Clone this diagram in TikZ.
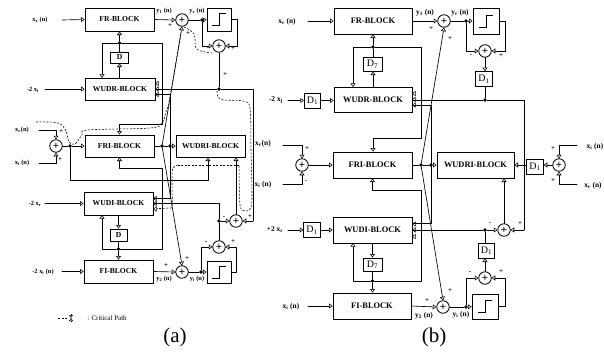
\documentclass[tikz,border=0pt]{standalone}
\usepackage{fontspec}
\setmainfont{Liberation Serif}
\usetikzlibrary{arrows.meta,calc}
\newcommand{\blkfont}{\fontsize{7.6}{9}\selectfont\bfseries}
\tikzset{
  x=1pt,y=-1pt,
  ln/.style={line width=.65pt,line cap=round,line join=round},
  hv/.style={line width=.95pt,line join=round},
  arr/.style={ln,-{Triangle[open,length=3.6pt,width=5pt,line width=.55pt]}},
  blk/.style 2 args={draw,line width=.8pt,minimum width=#1pt,minimum height=#2pt,inner sep=0pt,font=\blkfont},
  addr/.style={draw,circle,line width=.8pt,minimum size=12.5pt,inner sep=0pt,font=\fontsize{11}{11}\selectfont\bfseries},
  dotn/.style={circle,fill=black,minimum size=3.6pt,inner sep=0pt},
  lab/.style={inner sep=0pt,font=\fontsize{6.4}{7}\selectfont\bfseries},
  labb/.style={inner sep=0pt,font=\fontsize{7.4}{8}\selectfont\bfseries},
  sgn/.style={inner sep=0pt,font=\fontsize{7}{7}\selectfont\bfseries},
  captxt/.style={inner sep=0pt,font=\fontsize{21}{22}\selectfont},
  crit/.style={line width=.55pt,dash pattern=on 2pt off 1.5pt},
  tri/.style={line width=.5pt},
  stp/.style={line width=.9pt}
}
\newcommand{\ports}[2]{\foreach \i in {#2}{\draw[tri] ([yshift=\i pt]#1.east) -- ++(3,-2.2) -- ++(0,4.4) -- cycle;}}
\newcommand{\stepin}[1]{\draw[stp] ($(#1)+(-7,6)$) -- ($(#1)+(0,6)$) -- ($(#1)+(0,-6)$) -- ($(#1)+(7,-6)$);}
\begin{document}
\begin{tikzpicture}
\useasboundingbox (0,0) rectangle (604,351);
% ===== panel (a) blocks
\node[blk={69}{23}] (frA) at (119.5,19.5) {FR-BLOCK};
\node[blk={18}{11}] (dA) at (119.5,57.5) {D};
\node[blk={70}{22}] (wudrA) at (120,89) {WUDR-BLOCK};
\node[blk={69}{22}] (friA) at (119.5,146) {FRI-BLOCK};
\node[blk={69}{22}] (wudriA) at (210.5,146) {WUDRI-BLOCK};
\node[blk={69}{23}] (wudiA) at (118.5,203.5) {WUDI-BLOCK};
\node[blk={17}{12}] (dB) at (118.5,235) {D};
\node[blk={69}{23}] (fiA) at (118.5,271.5) {FI-BLOCK};
\node[blk={24}{23},line width=.9pt] (fA1) at (219,19.5) {};
\node[blk={24}{22},line width=.9pt] (fA2) at (219,272) {};
\stepin{fA1} \stepin{fA2}
\node[addr] (a1) at (182,20) {+};
\node[addr] (a2) at (219,46) {+};
\node[addr] (a0) at (56,146) {+};
\node[addr] (a3) at (236,221) {+};
\node[addr] (a4) at (219,247) {+};
\node[addr] (a5) at (182,272) {+};
\node[dotn] (d1) at (119.5,43) {};
\node[dotn] (d2) at (202,20) {};
\node[dotn] (d3) at (219,89) {};
\node[dotn] (d4) at (70,146) {};
\node[dotn] (d5) at (162,146) {};
\node[dotn] (d6) at (170,146) {};
\node[dotn] (d7) at (219,221) {};
\node[dotn] (d8) at (118.5,249) {};
\node[dotn] (d9) at (201,272) {};
\ports{wudrA}{-5.5,0,5.5}
\ports{wudiA}{-5.5,0,5}
% labels (a)
\node[lab] (t1) at (40,20) {x\textsubscript{r} (n)};
\node[lab] (t2) at (33,90) {-2 x\textsubscript{i}};
\node[lab] (t3) at (22,130) {x\textsubscript{r}(n)};
\node[lab] (t4) at (22,163) {x\textsubscript{i} (n)};
\node[lab] (t5) at (35,204) {-2 x\textsubscript{r}};
\node[lab] (t6) at (43,272) {-2 x\textsubscript{i} (n)};
\node[lab] (t7) at (164,11) {y\textsubscript{1} (n)};
\node[lab] (t8) at (197,11) {y\textsubscript{r} (n)};
\node[lab] (t9) at (164,279) {y\textsubscript{2} (n)};
\node[lab] (t10) at (197,279) {y\textsubscript{i} (n)};
\node[labb] (t11) at (263,144) {x\textsubscript{r}(n)};
\node[labb] (t12) at (263,185) {x\textsubscript{i} (n)};
\node[lab,font=\fontsize{7}{7}\selectfont] (t13) at (107,318) {: Critical Path};
\node[captxt] (capA) at (175,337) {(a)};
\coordinate (lg1) at (58,318); \coordinate (lg2) at (67,318);
\coordinate (lg3) at (71,314); \coordinate (lg4) at (71,322); \coordinate (lg5) at (71,318);
\draw[crit] (lg1) -- (lg2);
\draw[tri,-{Triangle[open,length=3pt,width=4pt]}] (lg3) -- (lg5);
\draw[tri,-{Triangle[open,length=3pt,width=4pt]}] (lg4) -- (lg5);
% signs (a)
\node[sgn] (s1) at (170,26) {+}; \node[sgn] (s2) at (188,34) {+};
\node[sgn] (s3) at (208,49) {-}; \node[sgn] (s4) at (233,49) {+};
\node[sgn] (s5) at (225,75) {+}; \node[sgn] (s6) at (61,132) {+};
\node[sgn] (s7) at (60,160) {+}; \node[sgn] (s8) at (224,218) {-};
\node[sgn] (s9) at (250,217) {+}; \node[sgn] (s10) at (206,243) {-};
\node[sgn] (s11) at (233,242) {+}; \node[sgn] (s12) at (166,266) {+};
\node[sgn] (s13) at (187,259) {+};
% connectors (a)
\coordinate (i1) at (62,20); \coordinate (i2) at (45,89);
\coordinate (i3) at (39,130); \coordinate (i4) at (39,163);
\coordinate (i5) at (45,203.5); \coordinate (i6) at (62,271.5);
\draw[arr] (i1) -- (frA.west);
\draw[arr] (i2) -- (wudrA.west);
\draw[arr] (i5) -- (wudiA.west);
\draw[arr] (i6) -- (fiA.west);
\draw[arr] (i3) -| (a0.north);
\draw[arr] (i4) -| (a0.south);
\draw[ln] (a0) -- (d4); \draw[arr] (d4) -- (friA.west);
\draw[arr] (frA.east) -- (a1.west);
\draw[ln] (a1) -- (d2); \draw[arr] (d2) -- (fA1.west);
\draw[arr] (d2) |- (a2.west);
\draw[arr] (fA1.east) -- ++(5.5,0) |- (a2.east);
\draw[arr] (d1) -- (d1 |- frA.south);
\coordinate (c0) at (102,43); \coordinate (c0b) at (102,78);
\draw[arr] (d1) -- (c0) -- (c0b);
\coordinate (c1) at (162,43); \coordinate (c2) at (162,124); \coordinate (c3) at (119.5,124);
\draw[arr] (d1) -- (c1) -- (c2) -- (c3) -- (c3 |- friA.north);
\draw[ln] (d1) -- (d1 |- dA.north);
\draw[arr] (wudrA.north -| d1) -- (d1 |- dA.south);
\draw[hv] (a2.south) -- (d3);
\coordinate (c4) at (253,89); \coordinate (c5) at (253,221);
\draw[hv] (wudrA.east) -- (d3) -- (c4) -- (c5);
\draw[arr] (c5) -- (a3.east);
\coordinate (c6) at (170,94.5); \coordinate (c7) at (170,198);
\draw[ln] ([yshift=-5.5pt]wudrA.east) -- (c6) -- (c7) -- ([yshift=5.5pt]wudiA.east);
\draw[ln] (friA.east) -- (d5) -- (d6); \draw[arr] (d6) -- (wudriA.west);
\draw[arr] (d5) -- (a1.south);
\draw[arr] (d5) -- (a5.north);
\coordinate (c8) at (70,180); \coordinate (c9) at (208,180);
\draw[arr] (d4) -- (c8) -- (c9) -- (c9 |- wudriA.south);
\coordinate (c10) at (119.5,168); \coordinate (c11) at (162,168); \coordinate (c12) at (162,249);
\draw[arr] (c10) -- (c10 |- friA.south);
\draw[ln] (c10) -- (c11) -- (c12) -- (d8);
\draw[arr] (d8) -- (d8 |- fiA.north);
\coordinate (c14) at (102,249); \coordinate (c15) at (102,215);
\draw[arr] (d8) -- (c14) -- (c15);
\draw[arr] (wudiA.south -| d8) -- (d8 |- dB.north);
\draw[ln] (dB.south) -- (d8);
\draw[arr,line width=.95pt] (a3.north) -- (a3 |- wudriA.south);
\coordinate (c13) at (219,203.5);
\draw[ln] (wudiA.east) -- (c13) -- (d7);
\draw[arr] (d7) -- (a3.west);
\draw[ln] (d7) -- (a4.north);
\draw[arr] (fiA.east) -- (a5.west);
\draw[ln] (a5) -- (d9); \draw[arr] (d9) -- (fA2.west);
\draw[arr] (d9) |- (a4.west);
\draw[arr] (fA2.east) -- ++(5,0) |- (a4.east);
% critical path
\draw[crit] plot[smooth,tension=.6] coordinates {(36,122) (58,123) (66,131) (69,142) (75,144) (82,135) (88,130) (150,128) (162,123) (166,112) (170,97) (181,33)};
\draw[crit] plot[smooth,tension=.6] coordinates {(184,27) (194,34) (196,48) (205,52) (213,53)};
\draw[crit] plot[smooth,tension=.5] coordinates {(217,91) (218,97) (224,100) (243,101) (250,108) (251,150) (252,198) (250,209) (245,211) (240,205) (239,165)};
\draw[crit] (239,165) -- (178,165);
\draw[crit] plot[smooth,tension=.6] coordinates {(178,165) (173,168) (172,180) (172,205) (168,208) (157,208.5)};
% ===== panel (b) blocks
\renewcommand{\blkfont}{\fontsize{8.4}{9}\selectfont\bfseries}
\tikzset{dbox/.style 2 args={blk={#1}{#2},font=\fontsize{10}{10}\selectfont}}
\node[blk={78}{26}] (frB) at (373,21) {FR-BLOCK};
\node[dbox={19}{14}] (d7a) at (372.5,64) {D\textsubscript{7}};
\node[blk={78}{25}] (wudrB) at (373,99.5) {WUDR-BLOCK};
\node[blk={79}{26}] (friB) at (372.5,165) {FRI-BLOCK};
\node[blk={77}{26}] (wudriB) at (475.5,165) {WUDRI-BLOCK};
\node[blk={79}{26}] (wudiB) at (372.5,230) {WUDI-BLOCK};
\node[dbox={19}{13}] (d7b) at (372.5,264.5) {D\textsubscript{7}};
\node[blk={78}{26}] (fiB) at (372,306) {FI-BLOCK};
\node[blk={26}{26}] (fB1) at (486,21) {};
\node[blk={26}{25}] (fB2) at (485,306.5) {};
\stepin{fB1} \stepin{fB2}
\node[dbox={16.5}{15}] (db1) at (484,79) {D\textsubscript{1}};
\node[dbox={16.5}{15}] (db2) at (312.5,100.5) {D\textsubscript{1}};
\node[dbox={16.5}{15}] (db3) at (535,166.5) {D\textsubscript{1}};
\node[dbox={16.5}{15}] (db4) at (312,230) {D\textsubscript{1}};
\node[dbox={16.5}{15}] (db5) at (486.5,250.5) {D\textsubscript{1}};
\node[addr] (b1) at (444,21) {+};
\node[addr] (b2) at (485,51) {+};
\node[addr] (b0) at (302,165) {+};
\node[addr] (b6) at (559,165) {+};
\node[addr] (b3) at (504,230) {+};
\node[addr] (b4) at (485,278) {+};
\node[addr] (b5) at (443,307) {+};
\node[dotn] (e1) at (373,47) {};
\node[dotn] (e2) at (466,21) {};
\node[dotn] (e3) at (485,100) {};
\node[dotn] (e5) at (421,165) {};
\node[dotn] (e6) at (431,165) {};
\node[dotn] (e7) at (485,230) {};
\node[dotn] (e8) at (372.5,281) {};
\node[dotn] (e9) at (466,307) {};
\ports{wudrB}{-5.5,0,6}
\ports{wudiB}{-6.5,0,6}
% labels (b)
\node[labb] (u1) at (287,22) {x\textsubscript{r} (n)};
\node[labb] (u2) at (276,100) {-2 x\textsubscript{j}};
\node[labb] (u3) at (275,230) {+2 x\textsubscript{r}};
\node[labb] (u4) at (291,307) {x\textsubscript{i} (n)};
\node[labb] (u5) at (595,147) {x\textsubscript{i} (n)};
\node[labb] (u6) at (593,186) {x\textsubscript{r} (n)};
\node[labb] (u7) at (425,13) {y\textsubscript{1} (n)};
\node[labb] (u8) at (460,13) {y\textsubscript{r} (n)};
\node[labb] (u9) at (424,316) {y\textsubscript{2} (n)};
\node[labb] (u10) at (461,315) {y\textsubscript{i} (n)};
\node[captxt] (capB) at (434,337) {(b)};
% signs (b)
\node[sgn] (v1) at (431,29) {+}; \node[sgn] (v2) at (450,39) {+};
\node[sgn] (v3) at (471,56) {-}; \node[sgn] (v4) at (501,56) {+};
\node[sgn] (v5) at (307,149) {+}; \node[sgn] (v6) at (306,182) {-};
\node[sgn] (v7) at (553,149) {+}; \node[sgn] (v8) at (553,181) {+};
\node[sgn] (v9) at (490,224) {-}; \node[sgn] (v10) at (520,224) {+};
\node[sgn] (v11) at (470,273) {-}; \node[sgn] (v12) at (501,272) {+};
\node[sgn] (v13) at (427,301) {+}; \node[sgn] (v14) at (450,291) {+};
% connectors (b)
\coordinate (k1) at (308,21); \coordinate (k2) at (288,100.5);
\coordinate (k3) at (283,145); \coordinate (k4) at (283,184);
\coordinate (k5) at (288,230); \coordinate (k6) at (308,306);
\coordinate (k7) at (577,145); \coordinate (k8) at (577,184);
\draw[arr] (k1) -- (frB.west);
\draw[arr] (k2) -- (db2.west); \draw[arr] (db2.east) -- (wudrB.west |- db2.east);
\draw[arr] (k5) -- (db4.west); \draw[arr] (db4.east) -- (wudiB.west);
\draw[arr] (k6) -- (fiB.west);
\draw[arr] (k3) -| (b0.north); \draw[arr] (k4) -| (b0.south);
\draw[arr] (k7) -| (b6.north); \draw[arr] (k8) -| (b6.south);
\draw[arr] (b0.east) -- (friB.west);
\draw[arr] (b6.west) -- (db3.east |- b6.west);
\draw[arr] (db3.west |- wudriB.east) -- (wudriB.east);
\draw[arr] (frB.east) -- (b1.west);
\draw[ln] (b1) -- (e2); \draw[arr] (e2) -- (fB1.west);
\draw[arr] (e2) |- (b2.west);
\draw[arr] (fB1.east) -- ++(6,0) |- (b2.east);
\draw[arr] (b2.south) -- (b2.south |- db1.north);
\draw[ln] (e3) -- (e3 |- db1.south);
\draw[arr] (e1) -- (e1 |- frB.south);
\coordinate (m0) at (353,47); \coordinate (m0b) at (353,87);
\draw[arr] (e1) -- (m0) -- (m0b);
\coordinate (m1) at (421,47); \coordinate (m2) at (421,138); \coordinate (m3) at (373,138);
\draw[arr] (e1) -- (m1) -- (m2) -- (m3) -- (m3 |- friB.north);
\draw[ln] (e1) -- (e1 |- d7a.north);
\draw[arr] (wudrB.north -| e1) -- (e1 |- d7a.south);
\coordinate (m4) at (524,100); \coordinate (m5) at (524,230);
\draw[hv] (e3) -- (m4) -- (m5);
\draw[arr] (m5) -- (b3.east);
\draw[hv] (wudrB.east |- e3) -- (e3);
\coordinate (m6) at (431,105.5); \coordinate (m7) at (431,223.5);
\draw[ln] ([yshift=-6pt]wudrB.east) -- (m6) -- (m7) -- ([yshift=6.5pt]wudiB.east);
\draw[ln] (friB.east) -- (e5) -- (e6); \draw[arr] (e6) -- (wudriB.west);
\draw[arr] (e5) -- (b1.south);
\draw[arr] (e5) -- (b5.north);
\coordinate (m8) at (372.5,190); \coordinate (m9) at (421,190); \coordinate (m10) at (421,281);
\draw[arr] (m8) -- (m8 |- friB.south);
\draw[ln] (m8) -- (m9) -- (m10) -- (e8);
\draw[arr] (e8) -- (e8 |- fiB.north);
\coordinate (m11) at (353,281); \coordinate (m12) at (353,243);
\draw[arr] (e8) -- (m11) -- (m12);
\draw[arr] (wudiB.south -| e8) -- (e8 |- d7b.north);
\draw[ln] (d7b.south) -- (e8);
\draw[arr,line width=.95pt] (b3.north) -- (b3 |- wudriB.south);
\draw[ln] (wudiB.east) -- (e7);
\draw[arr] (e7) -- (b3.west);
\draw[ln] (e7) -- (e7 |- db5.north);
\draw[arr] (b4.north) -- (b4 |- db5.south);
\draw[arr] (fiB.east) -- (b5.west);
\draw[ln] (b5) -- (e9); \draw[arr] (e9) -- (fB2.west);
\draw[arr] (e9) |- (b4.west);
\draw[arr] (fB2.east) -- ++(7,0) |- (b4.east);
\end{tikzpicture}
\end{document}
